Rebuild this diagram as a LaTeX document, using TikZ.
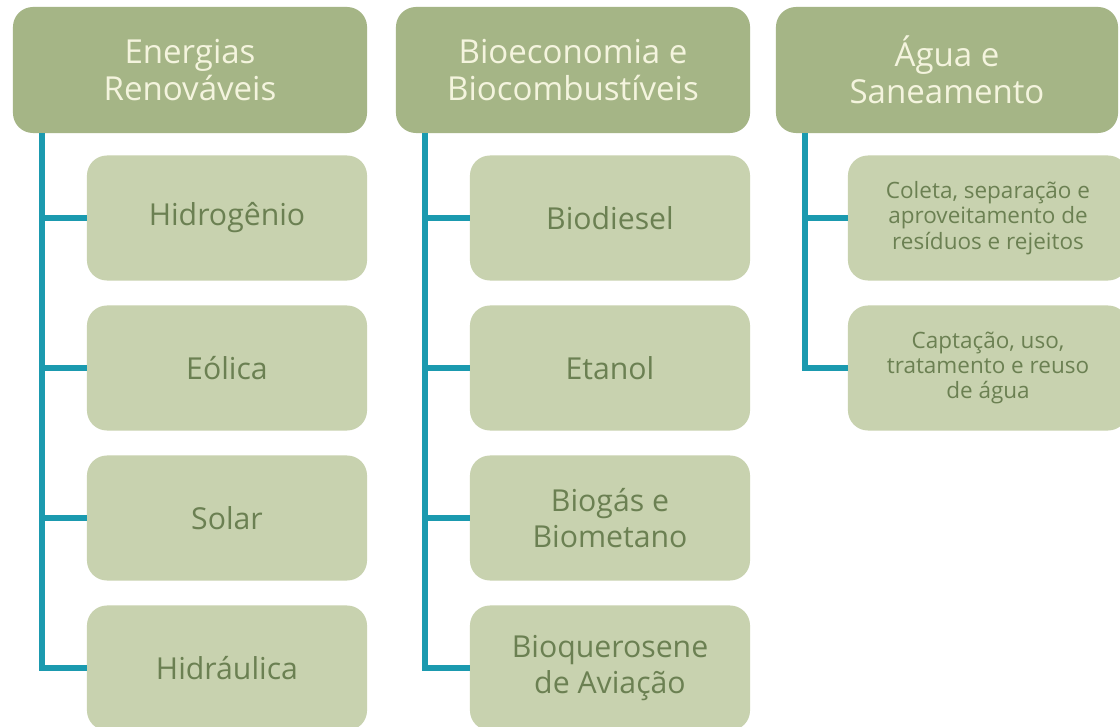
\documentclass[tikz,border=0pt]{standalone}
\usepackage{fontspec}
\setmainfont{Open Sans}
\usetikzlibrary{calc}

\definecolor{headgreen}{HTML}{A5B586}
\definecolor{leafgreen}{HTML}{C8D2AF}
\definecolor{leaftext}{HTML}{6B8052}
\definecolor{headtext}{HTML}{F4F4DE}
\definecolor{linkteal}{HTML}{1B9AAF}

\tikzset{
  header/.style={fill=headgreen, draw=none, rounded corners=0.5cm, minimum width=8.85cm, minimum height=3.15cm,
    text=headtext, align=center, font=\fontsize{23.5}{26.5}\selectfont, inner sep=0pt},
  leaf/.style={fill=leafgreen, draw=none, rounded corners=0.5cm, minimum width=7cm, minimum height=3.125cm,
    text=leaftext, align=center, font=\fontsize{21.5}{25.5}\selectfont, inner sep=0pt},
  smallleaf/.style={leaf, font=\fontsize{16}{18}\selectfont},
  link/.style={draw=linkteal, line width=4.3pt}
}

\begin{document}
\begin{tikzpicture}[x=0.025cm, y=-0.025cm]
            \useasboundingbox (0,0) rectangle (1120,727);
            \clip (0,0) rectangle (1120,727);
            \fill[white] (0,0) rectangle (1120,727);

            % column headers
            \node[header] (h1) at (190,70) {Energias\\Renováveis};
            \node[header] (h2) at (573,70) {Bioeconomia e\\Biocombustíveis};
            \node[header, minimum width=8.55cm] (h3) at (947,70) {Água e\\Saneamento};

            % first column
            \node[leaf] (a1) at (227,218) {Hidrogênio};
            \node[leaf] (a2) at (227,368) {Eólica};
            \node[leaf] (a3) at (227,518) {Solar};
            \node[leaf] (a4) at (227,668) {Hidráulica};

            % second column
            \node[leaf] (b1) at (610,218) {Biodiesel};
            \node[leaf] (b2) at (610,368) {Etanol};
            \node[leaf] (b3) at (610,518) {Biogás e\\Biometano};
            \node[leaf] (b4) at (610,668) {Bioquerosene\\de Aviação};

            % third column
            \node[smallleaf] (c1) at (988,218) {Coleta, separação e\\aproveitamento de\\resíduos e rejeitos};
            \node[smallleaf] (c2) at (988,368) {Captação, uso,\\tratamento e reuso\\de água};

            % connectors
            \coordinate (t1) at ($(h1.south west)+(29,0)$);
            \coordinate (t2) at ($(h2.south west)+(29,0)$);
            \coordinate (t3) at ($(h3.south west)+(29,0)$);
            \foreach \n in {a1,a2,a3,a4} \draw[link] (t1) |- (\n.west);
            \foreach \n in {b1,b2,b3,b4} \draw[link] (t2) |- (\n.west);
            \foreach \n in {c1,c2} \draw[link] (t3) |- (\n.west);
        \end{tikzpicture}
\end{document}
